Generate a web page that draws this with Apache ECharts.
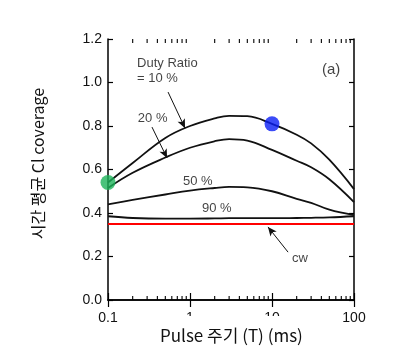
<!DOCTYPE html>
<html>
<head>
<meta charset="utf-8">
<script src="https://cdn.jsdelivr.net/npm/echarts@6/dist/echarts.min.js"></script>
<style>
html,body{margin:0;padding:0;background:#fff;}
#chart{width:395px;height:352px;}
</style>
</head>
<body>
<div id="chart"></div>
<script>
// ---- data ----
const periods = [0.1, 0.2, 0.5, 1, 2, 3, 5, 10, 20, 30, 50, 100];
const duty10 = [0.54, 0.63, 0.745, 0.80, 0.835, 0.847, 0.845, 0.81, 0.76, 0.72, 0.645, 0.51];
const duty20 = [0.515, 0.585, 0.655, 0.70, 0.73, 0.74, 0.733, 0.69, 0.64, 0.61, 0.555, 0.45];
const duty50 = [0.44, 0.46, 0.485, 0.503, 0.515, 0.52, 0.518, 0.50, 0.465, 0.447, 0.415, 0.39];
const duty90 = [0.385, 0.377, 0.374, 0.374, 0.375, 0.376, 0.376, 0.376, 0.377, 0.378, 0.38, 0.385];
const cwValues = [0.35, 0.35, 0.35, 0.35, 0.35, 0.35, 0.35, 0.35, 0.35, 0.35, 0.35, 0.35];

const greenPoint = [0.1, 0.54];
const bluePoint = [10, 0.81];

const yTicks = [0, 0.2, 0.4, 0.6, 0.8, 1.0, 1.2];
const xMajorTicks = [0.1, 1, 10, 100];
const xMinorTicks = [0.2, 0.3, 0.4, 0.5, 0.6, 0.7, 0.8, 0.9,
                     2, 3, 4, 5, 6, 7, 8, 9,
                     20, 30, 40, 50, 60, 70, 80, 90];

const annotationTexts = ['Duty Ratio', '= 10 %', '20 %', '50 %', '90 %', 'cw', '(a)'];
const annotationX = [0.226, 0.226, 0.231, 0.82, 1.40, 17.5, 40.7];
const annotationY = [1.09, 1.02, 0.837, 0.547, 0.423, 0.193, 1.057];
const annotationSizes = [13, 13, 13, 13, 13, 13, 15];

// arrows: [fromX, fromY, toX, toY]
const arrows = [
  [0.54, 0.956, 0.87, 0.79],
  [0.344, 0.795, 0.525, 0.653],
  [15.7, 0.22, 8.93, 0.336]
];

const xTitle = 'Pulse 주기 (T) (ms)';
const yTitle = '시간 평균 Cl coverage';

const pairs = (vals) => periods.map((p, i) => [p, vals[i]]);

const chart = echarts.init(document.getElementById('chart'));
const axisFont = 'Liberation Sans, Arial, sans-serif';
const krFont = '"Noto Sans CJK KR", "Noto Sans", sans-serif';

const curveStyle = { color: '#111', width: 1.8 };

const option = {
  animation: false,
  backgroundColor: '#fff',
  title: {
    text: xTitle, left: 150, top: 316, padding: [11, 10, 4, 10],
    backgroundColor: '#fff', z: 20,
    textStyle: { fontFamily: krFont, fontSize: 17, fontWeight: 'normal', color: '#111' }
  },
  grid: { left: 108, right: 41, top: 39, bottom: 52, outerBoundsMode: 'none', containLabel: false },
  xAxis: [
    {
      type: 'log', logBase: 10, min: 0.1, max: 100, position: 'bottom',
      axisLine: { show: true, lineStyle: { color: '#000', width: 1.5 } },
      axisTick: { show: true, inside: true, length: 7, lineStyle: { color: '#000', width: 1.2 } },
      axisLabel: { show: true, color: '#111', fontSize: 14, fontFamily: axisFont, margin: 11,
        formatter: (v) => String(Math.round(v * 10) / 10) },
      splitLine: { show: false }
    },
    {
      type: 'log', logBase: 10, min: 0.1, max: 100, position: 'top',
      axisLine: { show: true, lineStyle: { color: '#000', width: 1.5 } },
      axisTick: { show: true, inside: true, length: 7, lineStyle: { color: '#000', width: 1.2 } },
      axisLabel: { show: false },
      splitLine: { show: false }
    }
  ],
  yAxis: [
    {
      type: 'value', min: 0, max: 1.2, interval: 0.2, position: 'left',
      axisLine: { show: true, lineStyle: { color: '#000', width: 1.5 } },
      axisTick: { show: true, inside: true, length: 5, lineStyle: { color: '#000', width: 1.2 } },
      axisLabel: { color: '#111', fontSize: 14, fontFamily: axisFont, margin: 6,
        formatter: (v) => v.toFixed(1) },
      splitLine: { show: false },
      name: yTitle,
      nameLocation: 'middle',
      nameGap: 62,
      nameRotate: 90,
      nameMoveOverlap: false,
      nameTextStyle: { fontFamily: krFont, fontSize: 16, color: '#111', padding: [0, 0, 0, 12] }
    },
    {
      type: 'value', min: 0, max: 1.2, interval: 0.2, position: 'right',
      axisLine: { show: true, lineStyle: { color: '#000', width: 1.5 } },
      axisTick: { show: true, inside: true, length: 5, lineStyle: { color: '#000', width: 1.2 } },
      axisLabel: { show: false },
      splitLine: { show: false }
    }
  ],
  series: [
    { type: 'line', data: pairs(duty10), smooth: 0.4, showSymbol: false, lineStyle: curveStyle, z: 3 },
    { type: 'line', data: pairs(duty20), smooth: 0.4, showSymbol: false, lineStyle: curveStyle, z: 3 },
    { type: 'line', data: pairs(duty50), smooth: 0.4, showSymbol: false, lineStyle: curveStyle, z: 3 },
    { type: 'line', data: pairs(duty90), smooth: 0.4, showSymbol: false, lineStyle: curveStyle, z: 3 },
    {
      type: 'line', data: pairs(cwValues), showSymbol: false,
      lineStyle: { color: '#f00', width: 2 }, z: 3,
      markLine: {
        silent: true, animation: false,
        symbol: ['none', 'arrow'], symbolSize: [6, 9],
        label: { show: false },
        lineStyle: { color: '#111', width: 1, type: 'solid' },
        data: arrows.map(a => [{ coord: [a[0], a[1]] }, { coord: [a[2], a[3]] }])
      }
    },
    {
      type: 'scatter', data: [greenPoint], symbolSize: 15,
      itemStyle: { color: '#1db45a' }, z: 5
    },
    {
      type: 'scatter', data: [bluePoint], symbolSize: 15,
      itemStyle: { color: '#0a1ef5' }, z: 5
    },
    {
      type: 'scatter', symbolSize: 0, silent: true, z: 6,
      data: annotationTexts.map((t, i) => ({
        value: [annotationX[i], annotationY[i]], name: t,
        label: { fontSize: annotationSizes[i] }
      })),
      label: {
        show: true, position: [0, 0], align: 'left', verticalAlign: 'middle',
        formatter: (p) => p.name, color: '#111', fontFamily: axisFont
      }
    },
    {
      type: 'custom', silent: true, z: 4,
      data: xMinorTicks.map(v => [v]),
      renderItem: (params, api) => {
        const v = api.value(0);
        const b = api.coord([v, 0]);
        const t = api.coord([v, 1.2]);
        return {
          type: 'group',
          children: [
            { type: 'line', shape: { x1: b[0], y1: b[1], x2: b[0], y2: b[1] - 4 },
              style: { stroke: '#000', lineWidth: 1.1 } },
            { type: 'line', shape: { x1: t[0], y1: t[1], x2: t[0], y2: t[1] + 4 },
              style: { stroke: '#000', lineWidth: 1.1 } }
          ]
        };
      }
    }
  ]
};
chart.setOption(option);
</script>
</body>
</html>
